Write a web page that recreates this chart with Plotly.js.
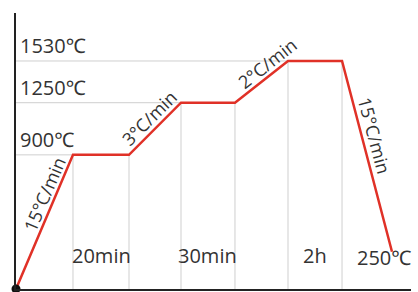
<!DOCTYPE html>
<html>
<head>
<meta charset="utf-8">
<script src="https://cdn.plot.ly/plotly-3.0.1.min.js"></script>
<style>html,body{margin:0;padding:0;background:#fff;}#chart{width:418px;height:292px;}</style>
</head>
<body>
<div id="chart"></div>
<script>
// Schematic firing curve: stage position along the (unscaled) time axis and temperature in °C
var steps = [0, 1.061, 2.104, 3.072, 4.077, 5.064, 6.07, 7.0];
var temps = [0, 900, 900, 1250, 1250, 1530, 1530, 250];
var tempLabels = ["900℃", "1250℃", "1530℃"];
var tempLevels = [900, 1250, 1530];
var holdLabels = ["20min", "30min", "2h"];
var rateLabels = ["15°C/min", "3°C/min", "2°C/min", "15°C/min"];
var endLabel = "250℃";

var FONT = {family: "Open Sans, Noto Sans, sans-serif", size: 20, color: "#333"};
var RFONT = {family: "Open Sans, Noto Sans, sans-serif", size: 18, color: "#333"};
var GRID = {color: "#cfcfcf", width: 1};

var shapes = [];
// vertical guide lines from each corner down to the time axis
for (var i = 1; i <= 6; i++) {
  shapes.push({type: "line", xref: "x", yref: "y", x0: steps[i], x1: steps[i], y0: 0, y1: temps[i], line: GRID, layer: "below"});
}
// horizontal guide lines from the temperature axis to the start of each plateau
[1, 3, 5].forEach(function (i) {
  shapes.push({type: "line", xref: "x", yref: "y", x0: 0, x1: steps[i], y0: temps[i], y1: temps[i], line: GRID, layer: "below"});
});

var annotations = [];
// temperature labels above the horizontal guides
tempLabels.forEach(function (t, k) {
  annotations.push({x: 0, y: tempLevels[k], xref: "x", yref: "y", text: t, showarrow: false,
    xanchor: "left", yanchor: "bottom", xshift: 2, yshift: 0, font: FONT});
});
// hold durations, centered in their plateau intervals near the bottom
var holdIdx = [1, 3, 5];
holdLabels.forEach(function (t, k) {
  var i = holdIdx[k];
  annotations.push({x: (steps[i] + steps[i + 1]) / 2, y: 0, xref: "x", yref: "y", text: t, showarrow: false,
    xanchor: "center", yanchor: "bottom", yshift: 18, font: FONT});
});
annotations.push({x: steps[7], y: 0, xref: "x", yref: "y", text: endLabel, showarrow: false,
  xanchor: "center", yanchor: "bottom", xshift: -8, yshift: 16, font: FONT});
// ramp rates along the sloped segments
var rampSeg = [0, 2, 4, 6];
var rampAngle = [-67, -45, -38, 75];
var rampShift = [[0, 28], [-6, 11], [6, 19], [7, 21]];
rateLabels.forEach(function (t, k) {
  var i = rampSeg[k];
  annotations.push({x: (steps[i] + steps[i + 1]) / 2, y: (temps[i] + temps[i + 1]) / 2, xref: "x", yref: "y",
    text: t, showarrow: false, textangle: rampAngle[k], xanchor: "center", yanchor: "middle",
    xshift: rampShift[k][0], yshift: rampShift[k][1], font: RFONT});
});

var traces = [
  {x: steps, y: temps, type: "scatter", mode: "lines", line: {color: "#e03127", width: 2.5}, hoverinfo: "skip"},
  {x: [steps[0]], y: [temps[0]], type: "scatter", mode: "markers", marker: {color: "#111", size: 9}, cliponaxis: false, hoverinfo: "skip"}
];

var layout = {
  width: 418, height: 292,
  margin: {l: 16, r: 7, t: 13, b: 3, pad: 0},
  paper_bgcolor: "#fff", plot_bgcolor: "#fff",
  showlegend: false,
  xaxis: {range: [0, 7.354], showgrid: false, zeroline: false, showticklabels: false, ticks: "",
    showline: true, linecolor: "#222", linewidth: 2},
  yaxis: {range: [0, 1852], showgrid: false, zeroline: false, showticklabels: false, ticks: "",
    showline: true, linecolor: "#222", linewidth: 2},
  shapes: shapes,
  annotations: annotations
};

Plotly.newPlot("chart", traces, layout, {staticPlot: true, displayModeBar: false});
</script>
</body>
</html>
